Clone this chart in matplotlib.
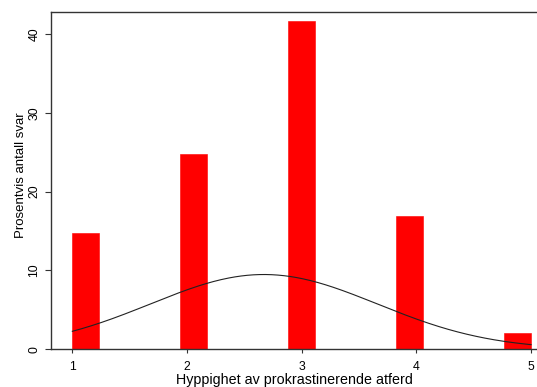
import numpy as np
import matplotlib
matplotlib.use("Agg")
import matplotlib.pyplot as plt

# Data
categories = [1, 2, 3, 4, 5]
percent = [14.7, 24.75, 41.65, 16.9, 2.1]
x_ticks = [1, 2, 3, 4, 5]
y_ticks = [0, 10, 20, 30, 40]
x_label = "Hyppighet av prokrastinerende atferd"
y_label = "Prosentvis antall svar"
n_bins = 17

plt.rcParams['font.family'] = ['Liberation Sans', 'DejaVu Sans']

fig = plt.figure(figsize=(5.37, 3.87), dpi=100)
ax = fig.add_axes([51/537, (387-349.3)/387, 1 - 51/537, (349.3-12)/387])

lo, hi = min(categories), max(categories)
w = (hi - lo) / n_bins
cats = np.array(categories, dtype=float)
pct = np.array(percent, dtype=float)
idx = np.clip(np.floor((cats - lo) / w + 1e-9), 0, n_bins - 1)
lefts = lo + idx * w
ax.bar(lefts, pct, width=w, align='edge', color='#ff0000', edgecolor='#ff0000',
       linewidth=0.4, zorder=2)

# normal density scaled to percent per bin
mean = np.sum(cats * pct) / pct.sum()
sd = np.sqrt(np.sum(pct * (cats - mean) ** 2) / pct.sum())
xs = np.linspace(lo, hi, 300)
dens = np.exp(-0.5 * ((xs - mean) / sd) ** 2) / (sd * np.sqrt(2 * np.pi))
ax.plot(xs, dens * w * 100, color='#222222', linewidth=0.8, zorder=3)

ax.set_xlim(0.814, 5.052)
ax.set_ylim(0, 42.8)
ax.set_xticks(x_ticks)
ax.set_yticks(y_ticks)
ax.set_xticklabels([str(t) for t in x_ticks], fontsize=8.8)
ax.set_yticklabels([str(t) for t in y_ticks], fontsize=8.8, rotation=90, va='center')
ax.tick_params(axis='y', length=4.5, width=0.8, color='#333333', pad=3)
ax.tick_params(axis='x', length=3, width=0.8, color='#333333', pad=5.5)
for s in ['left', 'bottom', 'top']:
    ax.spines[s].set_color('#333333')
    ax.spines[s].set_linewidth(1.0)
ax.spines['right'].set_visible(False)

ax.set_xlabel(x_label, fontsize=10.3, labelpad=0)
ax.set_ylabel(y_label, fontsize=9.5)
ax.yaxis.set_label_coords(-0.0494, 0.515)

fig.savefig("out.png", dpi=100)
